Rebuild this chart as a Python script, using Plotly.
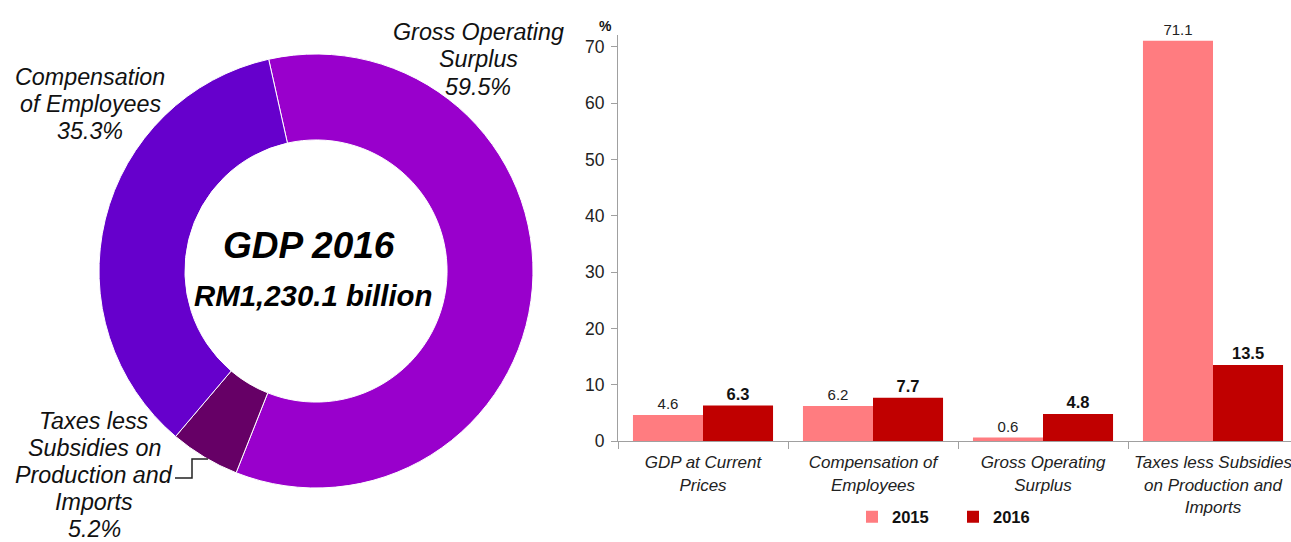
import plotly.graph_objects as go

W, H = 1291, 542
FONT = "Arial, 'Liberation Sans', sans-serif"

# ---- data ----
pie_labels = ["Gross Operating Surplus", "Taxes less Subsidies on Production and Imports",
              "Compensation of Employees"]
pie_values = [59.5, 5.2, 35.3]
pie_colors = ["#9900CC", "#660066", "#6600CC"]

label_gos = ["Gross Operating", "Surplus", "59.5%"]
label_comp = ["Compensation", "of Employees", "35.3%"]
label_tax = ["Taxes less", "Subsidies on", "Production and", "Imports", "5.2%"]

categories = ["GDP at Current<br>Prices", "Compensation of<br>Employees",
              "Gross Operating<br>Surplus", "Taxes less Subsidies<br>on Production and<br>Imports"]
values_2015 = [4.6, 6.2, 0.6, 71.1]
values_2016 = [6.3, 7.7, 4.8, 13.5]
y_ticks = [0, 10, 20, 30, 40, 50, 60, 70]


def px(x):
    return x / W


def py(y):
    return 1 - y / H


fig = go.Figure()

fig.add_trace(go.Pie(
    labels=pie_labels, values=pie_values, sort=False, direction="clockwise",
    rotation=-12.6, hole=0.604, textinfo="none", showlegend=False,
    marker=dict(colors=pie_colors, line=dict(color="white", width=1)),
    domain=dict(x=[px(99), px(533)], y=[py(488), py(54)]),
))

fig.add_trace(go.Bar(
    name="<b>2015</b>", x=categories, y=values_2015, marker_color="#FF7C80",
    text=[f"{v:.1f}" for v in values_2015], textposition="outside",
    textfont=dict(family=FONT, size=15, color="#222"), cliponaxis=False,
    xaxis="x", yaxis="y",
))
fig.add_trace(go.Bar(
    name="<b>2016</b>", x=categories, y=values_2016, marker_color="#C00000",
    text=[f"<b>{v:.1f}</b>" for v in values_2016], textposition="outside",
    textfont=dict(family=FONT, size=16.5, color="#111"), cliponaxis=False,
    xaxis="x", yaxis="y",
))

ann = []
lab_font = dict(family=FONT, size=23.3, color="#111", style="italic")


def add_lines(lines, xc, y_first, step):
    for i, t in enumerate(lines):
        ann.append(dict(text=t, x=px(xc), y=py(y_first + i * step), xref="paper",
                        yref="paper", showarrow=False, font=lab_font,
                        xanchor="center", yanchor="middle"))


add_lines(label_gos, 478, 32, 27.3)
add_lines(label_comp, 90, 77, 27)
add_lines(label_tax, 94, 421, 27)

ann.append(dict(text="<b>GDP 2016</b>", x=px(309), y=py(245), xref="paper", yref="paper",
                showarrow=False, font=dict(family=FONT, size=37, color="#000", style="italic"),
                xanchor="center", yanchor="middle"))
ann.append(dict(text="<b>RM1,230.1 billion</b>", x=px(313), y=py(295), xref="paper",
                yref="paper", showarrow=False,
                font=dict(family=FONT, size=29.4, color="#000", style="italic"),
                xanchor="center", yanchor="middle"))
ann.append(dict(text="<b>%</b>", x=px(605), y=py(26), xref="paper", yref="paper",
                showarrow=False, font=dict(family=FONT, size=14, color="#111"),
                xanchor="center", yanchor="middle"))

leader = (f"M{px(175)},{py(478)} L{px(192)},{py(478)} L{px(192)},{py(459)} "
          f"L{px(208)},{py(459)}")

fig.update_layout(
    template="none",
    width=W, height=H, margin=dict(l=0, r=0, t=0, b=0, autoexpand=False),
    paper_bgcolor="white", plot_bgcolor="white",
    font=dict(family=FONT, color="#222"),
    barmode="group", bargap=0.176, bargroupgap=0,
    xaxis=dict(domain=[px(618), 1], range=[-0.5, -0.5 + (W - 618) / 170],
               automargin=False,
               showline=True, linecolor="#A0A0A0", linewidth=1,
               ticks="outside", tickson="boundaries", ticklen=7, tickcolor="#A0A0A0",
               ticklabelstandoff=6,
               tickfont=dict(family=FONT, size=17, color="#222", style="italic"),
               showgrid=False, zeroline=False, fixedrange=True),
    yaxis=dict(domain=[py(441), py(35)], range=[0, 72.1], tickvals=y_ticks,
               automargin=False,
               showline=True, linecolor="#A0A0A0", linewidth=1,
               ticks="outside", ticklen=6, tickcolor="#A0A0A0",
               ticklabelstandoff=3,
               tickfont=dict(family=FONT, size=17.5, color="#222"),
               showgrid=False, zeroline=False, fixedrange=True),
    legend=dict(orientation="h", x=px(852), y=py(517), xanchor="left", yanchor="middle",
                entrywidth=56, entrywidthmode="pixels",
                font=dict(family=FONT, size=16.5, color="#111"), bgcolor="rgba(0,0,0,0)"),
    annotations=ann,
    shapes=[dict(type="path", path=leader, xref="paper", yref="paper",
                 line=dict(color="#222", width=1.5))],
)

fig.write_html("out.html", config={"displayModeBar": False},
               post_script="document.body.style.margin='0';document.body.style.overflow='hidden';")
